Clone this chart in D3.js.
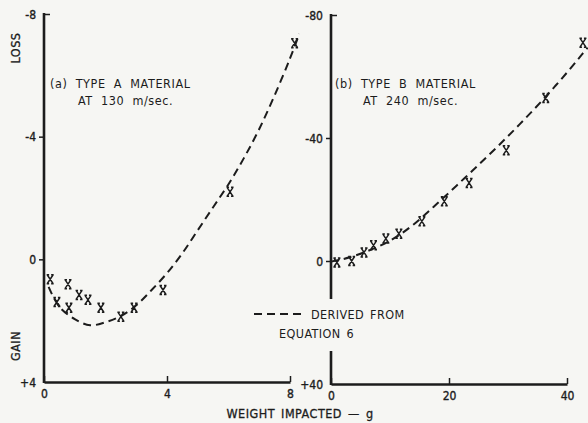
<!DOCTYPE html>
<html>
<head>
<meta charset="utf-8">
<script src="https://cdn.jsdelivr.net/npm/d3@7"></script>
<style>
  body { margin: 0; background: #f6f6f3; }
  svg { display: block; }
  text { font-family: "DejaVu Sans Condensed", "Liberation Sans Narrow", "DejaVu Sans", sans-serif; fill: #1c1c1c; }
  .axisText { font-size: 12px; stroke: #1c1c1c; stroke-width: 0.35px; }
  .title { font-size: 12.5px; letter-spacing: 0.5px; stroke: #1c1c1c; stroke-width: 0.3px; }
  .note { font-size: 12.5px; letter-spacing: 0.6px; word-spacing: 4px; }
  .legend { font-size: 12.5px; letter-spacing: 0.4px; word-spacing: 2px; }
</style>
</head>
<body>
<div id="chart"></div>
<script>
// panel (a) type A material, 130 m/sec
var aTicksX = [0, 4, 8];
var aTicksY = [-8, -4, 0, 4];
var aPointsX = [0.2, 0.42, 0.78, 0.81, 1.14, 1.43, 1.85, 2.5, 2.93, 3.87, 6.05, 8.15];
var aPointsY = [0.65, 1.39, 0.81, 1.58, 1.16, 1.32, 1.58, 1.87, 1.58, 1.0, -2.2, -7.05];
var aCurveX = [0.15, 0.5, 1, 1.5, 2, 2.5, 3, 3.5, 4, 4.5, 5, 5.5, 6, 6.5, 7, 7.5, 8, 8.3];
var aCurveY = [0.9, 1.55, 1.95, 2.15, 2.05, 1.85, 1.5, 1.0, 0.45, -0.2, -0.95, -1.7, -2.45, -3.3, -4.25, -5.35, -6.55, -7.35];

// panel (b) type B material, 240 m/sec
var bTicksX = [0, 20, 40];
var bTicksY = [-80, -40, 0, 40];
var bPointsX = [1, 3.5, 5.6, 7.2, 9.3, 11.5, 15.4, 19.2, 23.4, 29.7, 36.4, 42.7];
var bPointsY = [0.5, 0, -2.8, -5.1, -7.3, -8.9, -12.9, -19.4, -25.4, -36, -53, -71];
var bCurveX = [0, 2, 4, 6, 8, 10, 12, 14, 16, 18, 20, 22, 24, 26, 28, 30, 32, 34, 36, 38, 40, 42, 43.5];
var bCurveY = [0.2, -0.6, -1.7, -3.1, -4.7, -6.6, -9.0, -11.9, -15.2, -18.7, -22.2, -25.8, -29.4, -33.1, -36.8, -40.6, -44.5, -48.5, -52.6, -56.9, -61.3, -65.9, -69.4];

var svgWidth = 588, svgHeight = 423;
var ink = "#1c1c1c";

var svg = d3.select("#chart").append("svg")
  .attr("width", svgWidth)
  .attr("height", svgHeight);

svg.append("rect").attr("width", svgWidth).attr("height", svgHeight).attr("fill", "#f6f6f3");

// scales
var xA = d3.scaleLinear().domain([0, 8]).range([44, 290]);
var yA = d3.scaleLinear().domain([-8, 4]).range([14, 382]);
var xB = d3.scaleLinear().domain([0, 40]).range([331, 567]);
var yB = d3.scaleLinear().domain([-80, 40]).range([15, 384]);

function tickFmt(d) { return d > 0 ? "+" + d : String(d); }

function drawPanel(x, y, ticksX, ticksY, gap) {
  var g = svg.append("g");

  // y axis
  var yAxis = d3.axisLeft(y).tickValues(ticksY).tickSize(5).tickSizeOuter(0).tickPadding(3).tickFormat(tickFmt);
  var ya = g.append("g")
    .attr("transform", `translate(${x.range()[0]},0)`)
    .call(yAxis);
  ya.select(".domain").remove();
  ya.selectAll(".tick line")
    .attr("stroke", ink).attr("stroke-width", 1.5)
    .attr("x2", d => d === ticksY[0] ? 6 : (d === ticksY[3] ? 0 : -5));
  ya.selectAll(".tick text").attr("class", "axisText").attr("dy", "0.35em");

  // y axis line (with optional gap where the legend sits)
  var top = y(ticksY[0]), bottom = y(ticksY[3]);
  var segs = gap ? [[top, gap[0]], [gap[1], bottom]] : [[top, bottom]];
  segs.forEach(function(s) {
    g.append("line")
      .attr("x1", x.range()[0]).attr("x2", x.range()[0])
      .attr("y1", s[0] - 1).attr("y2", s[1] + 1)
      .attr("stroke", ink).attr("stroke-width", 2.6);
  });

  // x axis, ticks pointing up
  var xAxis = d3.axisBottom(x).tickValues(ticksX).tickSize(-6).tickSizeOuter(0).tickPadding(7);
  var xa = g.append("g")
    .attr("transform", `translate(0,${bottom})`)
    .call(xAxis);
  xa.select(".domain").attr("stroke", ink).attr("stroke-width", 2.6);
  xa.selectAll(".tick line").attr("stroke", ink).attr("stroke-width", 1.5);
  xa.selectAll(".tick text").attr("class", "axisText");
  return g;
}

var gA = drawPanel(xA, yA, aTicksX, aTicksY, null);
var gB = drawPanel(xB, yB, bTicksX, bTicksY, [298, 352]);

// dashed curves
function drawCurve(g, x, y, cx, cy) {
  var line = d3.line()
    .x(d => x(d[0]))
    .y(d => y(d[1]))
    .curve(d3.curveCatmullRom);
  g.append("path")
    .datum(d3.zip(cx, cy))
    .attr("d", line)
    .attr("fill", "none")
    .attr("stroke", ink)
    .attr("stroke-width", 2)
    .attr("stroke-dasharray", "8,5");
}
drawCurve(gA, xA, yA, aCurveX, aCurveY);
drawCurve(gB, xB, yB, bCurveX, bCurveY);

// X markers with little caps
function drawMarks(g, x, y, px, py) {
  g.selectAll(null)
    .data(d3.zip(px, py))
    .enter()
    .append("path")
    .attr("transform", d => `translate(${x(d[0])},${y(d[1])})`)
    .attr("d", "M-3,-4.5L3,4.5M3,-4.5L-3,4.5M-3.5,-4.5L-1,-4.5M1,-4.5L3.5,-4.5M-3.5,4.5L-1,4.5M1,4.5L3.5,4.5")
    .attr("fill", "none")
    .attr("stroke", ink)
    .attr("stroke-width", 1.5);
}
drawMarks(gA, xA, yA, aPointsX, aPointsY);
drawMarks(gB, xB, yB, bPointsX, bPointsY);

// panel notes
svg.append("text").attr("class", "note").attr("x", 50).attr("y", 88).text("(a) TYPE A MATERIAL");
svg.append("text").attr("class", "note").attr("x", 78).attr("y", 105).text("AT 130 m/sec.");
svg.append("text").attr("class", "note").attr("x", 335).attr("y", 88).text("(b) TYPE B MATERIAL");
svg.append("text").attr("class", "note").attr("x", 363).attr("y", 105).text("AT 240 m/sec.");

// legend
svg.append("line")
  .attr("x1", 254).attr("x2", 304).attr("y1", 314).attr("y2", 314)
  .attr("stroke", ink).attr("stroke-width", 2).attr("stroke-dasharray", "8,5");
svg.append("text").attr("class", "legend").attr("x", 311).attr("y", 319).text("DERIVED FROM");
svg.append("text").attr("class", "legend").attr("x", 279).attr("y", 338).text("EQUATION 6");

// axis titles
svg.append("text").attr("class", "title")
  .attr("transform", "translate(20,48) rotate(-90)")
  .attr("text-anchor", "middle")
  .text("LOSS");
svg.append("text").attr("class", "title")
  .attr("transform", "translate(20,346) rotate(-90)")
  .attr("text-anchor", "middle")
  .text("GAIN");
svg.append("text").attr("class", "title")
  .attr("x", 300).attr("y", 418)
  .attr("text-anchor", "middle")
  .attr("word-spacing", "2px")
  .text("WEIGHT IMPACTED \u2014 g");
</script>
</body>
</html>
